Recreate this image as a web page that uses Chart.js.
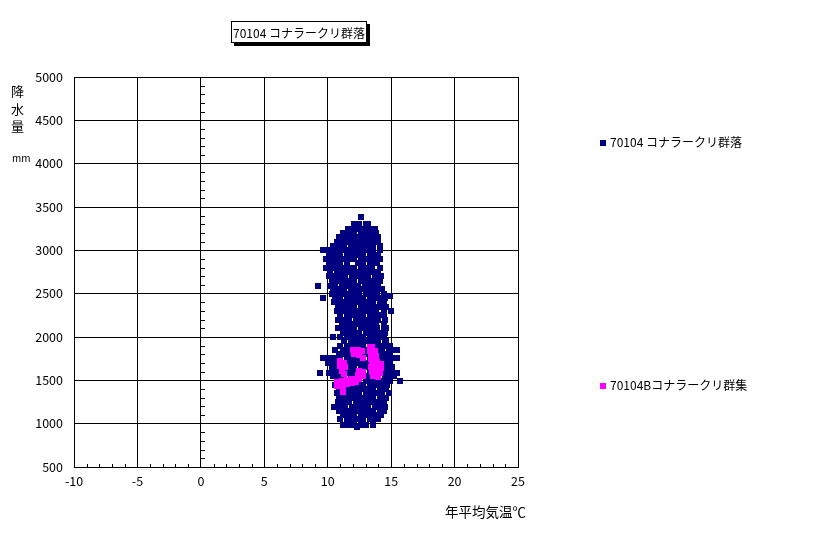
<!DOCTYPE html>
<html>
<head>
<meta charset="utf-8">
<script src="https://cdn.jsdelivr.net/npm/chart.js@4/dist/chart.umd.min.js"></script>
<style>
  body { margin: 0; background: #fff; }
  #wrap { position: relative; width: 816px; height: 534px; font-family: "Noto Sans CJK JP", sans-serif; color: #000; }
  #chart { position: absolute; left: 0; top: 0; }
  .lbl { position: absolute; white-space: nowrap; line-height: 1; }
  #title { left: 231px; top: 21px; width: 136px; height: 22px; border: 1px solid #000; box-shadow: 3px 3px 0 #000;
           background: #fff; font-size: 12px; line-height: 22px; text-align: center; box-sizing: border-box; }
  .key { display: inline-block; width: 6px; height: 6px; margin-right: 4px; vertical-align: 1px; }
</style>
</head>
<body>
<div id="wrap">
  <canvas id="chart" width="816" height="534"></canvas>
  <div class="lbl" id="title">70104 コナラークリ群落</div>
  <div class="lbl" style="left:11px;top:82px;font-size:13px;line-height:17.5px;">降<br>水<br>量</div>
  <div class="lbl" style="left:12px;top:153px;font-size:10px;">mm</div>
  <div class="lbl" style="left:445px;top:505px;font-size:13.5px;">年平均気温℃</div>
  <div class="lbl" style="left:600px;top:136px;font-size:12px;"><span class="key" style="background:#000080"></span>70104 コナラークリ群落</div>
  <div class="lbl" style="left:600px;top:379px;font-size:12px;"><span class="key" style="background:#ff00ff"></span>70104Bコナラークリ群集</div>
</div>
<script>
// axis ranges and tick labels
const xTicks = [-10, -5, 0, 5, 10, 15, 20, 25];
const yTicks = [500, 1000, 1500, 2000, 2500, 3000, 3500, 4000, 4500, 5000];

// 70104 コナラークリ群落: rows of [precipitation mm, [annual mean temperatures]]
const gunrakuRows = [
  [3390, [12.6]],
  [3300, [12.1, 12.5, 13.0, 13.2]],
  [3250, [11.6, 12.0, 12.5, 12.9, 13.4, 13.7]],
  [3200, [11.2, 11.7, 12.1, 12.6, 13.0, 13.4, 13.8]],
  [3150, [10.9, 11.4, 11.8, 12.3, 12.7, 13.2, 13.6, 14.0]],
  [3100, [10.7, 11.1, 11.6, 12.0, 12.5, 12.9, 13.4, 13.8, 14.0]],
  [3050, [10.4, 10.9, 11.3, 11.8, 12.2, 12.7, 13.1, 13.6, 14.1]],
  [3000, [9.6, 10.0, 10.5, 10.9, 11.4, 11.8, 12.3, 12.7, 13.2, 13.6, 14.1]],
  [2950, [10.1, 10.6, 11.0, 11.5, 11.9, 12.4, 12.8, 13.3, 13.7, 14.0]],
  [2900, [9.9, 10.3, 10.8, 11.2, 11.7, 12.1, 12.6, 13.0, 13.5, 13.9, 14.1]],
  [2850, [10.1, 10.6, 11.0, 11.5, 12.4, 12.8, 13.3, 13.7, 13.9]],
  [2800, [9.9, 10.3, 10.8, 11.2, 11.7, 12.1, 12.6, 13.0, 13.5, 14.1]],
  [2750, [10.2, 10.7, 11.1, 11.6, 12.0, 12.5, 12.9, 13.4, 13.8, 14.0]],
  [2700, [10.1, 10.5, 11.0, 11.4, 11.9, 12.3, 12.8, 13.2, 13.7, 14.2]],
  [2650, [10.3, 10.8, 11.2, 11.7, 12.1, 12.6, 13.0, 13.5, 13.9, 14.1]],
  [2590, [9.2, 10.2, 10.6, 11.1, 11.5, 12.0, 12.4, 12.9, 13.3, 13.8, 14.0]],
  [2550, [10.4, 10.9, 11.3, 11.8, 12.2, 12.7, 13.1, 13.6, 14.0, 14.3]],
  [2500, [10.3, 10.7, 11.2, 11.6, 12.1, 12.5, 13.0, 13.4, 13.9, 14.4]],
  [2470, [14.9]],
  [2450, [9.6, 10.6, 11.0, 11.5, 11.9, 12.4, 12.8, 13.3, 13.7, 14.2, 14.5]],
  [2400, [10.5, 10.9, 11.4, 11.8, 12.3, 12.7, 13.2, 13.6, 14.1, 14.4]],
  [2350, [10.8, 11.2, 11.7, 12.1, 12.6, 13.0, 13.5, 13.9, 14.3, 14.6]],
  [2300, [10.7, 11.1, 11.6, 12.0, 12.5, 12.9, 13.4, 13.8, 14.4, 15.0]],
  [2250, [11.0, 11.5, 11.9, 12.4, 12.8, 13.3, 13.7, 14.2, 14.4]],
  [2200, [10.8, 11.3, 11.7, 12.2, 12.6, 13.1, 13.5, 14.0, 14.5]],
  [2150, [11.1, 11.6, 12.0, 12.5, 12.9, 13.4, 13.8, 14.4]],
  [2100, [10.8, 11.2, 11.7, 12.1, 12.6, 13.0, 13.5, 13.9, 14.4, 14.6]],
  [2050, [11.2, 11.6, 12.1, 12.5, 13.0, 13.4, 13.9, 14.3, 14.5]],
  [2000, [10.4, 11.0, 11.5, 11.9, 12.4, 12.8, 13.3, 13.7, 14.2, 14.4]],
  [1950, [11.3, 11.8, 12.2, 12.7, 13.1, 13.6, 14.0, 14.5, 14.6]],
  [1900, [11.0, 11.5, 11.9, 12.4, 12.8, 13.3, 13.7, 14.2, 14.6, 14.9]],
  [1850, [10.6, 11.2, 11.6, 12.1, 12.5, 13.0, 13.4, 13.9, 14.3, 14.8, 15.0, 15.5]],
  [1800, [10.9, 11.4, 11.8, 12.3, 12.7, 13.2, 13.6, 14.1, 14.5, 14.9]],
  [1760, [9.6, 10.1, 10.6, 11.0, 11.5, 11.9, 12.4, 12.8, 13.3, 13.7, 14.2, 14.6, 15.0, 15.5]],
  [1700, [10.0, 10.5, 10.9, 11.4, 11.8, 12.3, 12.7, 13.2, 13.6, 14.1, 14.5, 14.9]],
  [1650, [10.3, 10.8, 11.2, 11.7, 12.1, 12.6, 13.0, 13.5, 13.9, 14.4, 14.8, 15.1]],
  [1590, [9.4, 10.1, 10.6, 11.0, 11.5, 11.9, 12.4, 12.8, 13.3, 13.7, 14.2, 14.6, 15.0, 15.5]],
  [1550, [10.4, 10.9, 11.3, 11.8, 12.2, 12.7, 13.1, 13.6, 14.0, 14.5, 14.9, 15.2]],
  [1490, [10.7, 11.2, 11.6, 12.1, 12.5, 13.0, 13.4, 13.9, 14.3, 14.7, 14.9, 15.7]],
  [1450, [10.6, 11.0, 11.5, 11.9, 12.4, 12.8, 13.3, 13.7, 14.2, 14.7]],
  [1400, [10.9, 11.4, 11.8, 12.3, 12.7, 13.2, 13.6, 14.1, 14.6]],
  [1350, [10.7, 11.2, 11.6, 12.1, 12.5, 13.0, 13.4, 13.9, 14.3, 14.8]],
  [1300, [10.9, 11.4, 11.8, 12.3, 12.7, 13.2, 13.6, 14.1, 14.6]],
  [1250, [10.8, 11.3, 11.7, 12.2, 12.6, 13.1, 13.5, 14.0, 14.4]],
  [1190, [10.5, 11.0, 11.4, 11.9, 12.3, 12.8, 13.2, 13.7, 14.1, 14.5]],
  [1150, [10.9, 11.4, 11.8, 12.3, 12.7, 13.2, 13.6, 14.1, 14.4]],
  [1100, [11.2, 11.7, 12.1, 12.6, 13.0, 13.5, 13.9, 14.2]],
  [1050, [11.0, 11.5, 11.9, 12.4, 12.8, 13.3, 13.7, 14.0]],
  [990, [11.2, 11.7, 12.1, 12.6, 13.0, 13.6]],
  [960, [12.3]]
];

// 70104B コナラークリ群集
const gunshuRows = [
  [1890, [13.3]],
  [1880, [13.5]],
  [1850, [12.0, 12.4]],
  [1840, [12.7, 13.3, 13.7]],
  [1800, [12.1]],
  [1790, [12.5, 13.4]],
  [1780, [13.8]],
  [1760, [12.8]],
  [1750, [13.4]],
  [1720, [11.0]],
  [1710, [13.9]],
  [1700, [11.3, 13.5]],
  [1690, [14.2]],
  [1660, [11.0]],
  [1650, [11.4, 13.4, 13.8]],
  [1640, [14.2]],
  [1610, [11.1, 12.5]],
  [1600, [12.8, 13.5]],
  [1590, [13.9]],
  [1580, [14.1]],
  [1570, [11.3]],
  [1560, [12.4]],
  [1550, [12.8, 13.6]],
  [1540, [14.0]],
  [1520, [12.2]],
  [1510, [11.9, 12.5]],
  [1500, [11.5]],
  [1490, [11.1]],
  [1480, [10.7, 12.2]],
  [1470, [11.9]],
  [1460, [11.5]],
  [1450, [11.1]],
  [1440, [10.7]],
  [1400, [11.2]],
  [1370, [11.2]]
];

const toPoints = rows => rows.flatMap(([p, temps]) => temps.map(t => ({ x: t, y: p })));

// crisp 6px square marker like the original
function squareMarker(color) {
  const c = document.createElement('canvas');
  c.width = 6;
  c.height = 6;
  const g = c.getContext('2d');
  g.fillStyle = color;
  g.fillRect(0, 0, 6, 6);
  return c;
}

// minor tick marks (Excel style)
const minorTicks = {
  id: 'minorTicks',
  afterDatasetsDraw(chart) {
    const { ctx, scales: { x, y } } = chart;
    ctx.save();
    ctx.strokeStyle = '#000';
    ctx.lineWidth = 1;
    ctx.beginPath();
    for (let v = x.min; v <= x.max; v++) {
      if (v % 5 === 0) continue;
      const px = Math.round(x.getPixelForValue(v)) + 0.5;
      ctx.moveTo(px, y.bottom);
      ctx.lineTo(px, y.bottom - 3);
    }
    const x0 = Math.round(x.getPixelForValue(0));
    for (let v = y.min; v <= y.max; v += 100) {
      if (v % 500 === 0) continue;
      const py = Math.round(y.getPixelForValue(v)) + 0.5;
      ctx.moveTo(x0, py);
      ctx.lineTo(x0 + 4, py);
    }
    ctx.stroke();
    ctx.restore();
  }
};

const tickFont = { family: '"Noto Sans CJK JP", sans-serif', size: 12.5 };

new Chart(document.getElementById('chart'), {
  type: 'scatter',
  data: {
    datasets: [{
      label: '70104Bコナラークリ群集',
      data: toPoints(gunshuRows),
      backgroundColor: '#ff00ff',
      pointStyle: squareMarker('#ff00ff'),
      order: 0
    }, {
      label: '70104 コナラークリ群落',
      data: toPoints(gunrakuRows),
      backgroundColor: '#000080',
      pointStyle: squareMarker('#000080'),
      order: 1
    }]
  },
  options: {
    responsive: false,
    animation: false,
    layout: { padding: { left: 0, top: 77, right: 298, bottom: 0 } },
    plugins: { legend: { display: false }, tooltip: { enabled: false } },
    scales: {
      x: {
        type: 'linear',
        min: -10,
        max: 25,
        afterBuildTicks: s => { s.ticks = xTicks.map(v => ({ value: v })); },
        afterFit: s => { s.height = 67; },
        ticks: { color: '#000', font: tickFont, padding: 7, maxRotation: 0, callback: v => String(v) },
        grid: { color: '#000', lineWidth: 1, drawTicks: false },
        border: { color: '#000', width: 1 }
      },
      y: {
        type: 'linear',
        min: 500,
        max: 5000,
        afterBuildTicks: s => { s.ticks = yTicks.map(v => ({ value: v })); },
        afterFit: s => { s.width = 74; },
        ticks: { color: '#000', font: tickFont, padding: 11, callback: v => String(v) },
        grid: { color: '#000', lineWidth: 1, drawTicks: false },
        border: { color: '#000', width: 1 }
      }
    }
  },
  plugins: [minorTicks]
});
</script>
</body>
</html>
